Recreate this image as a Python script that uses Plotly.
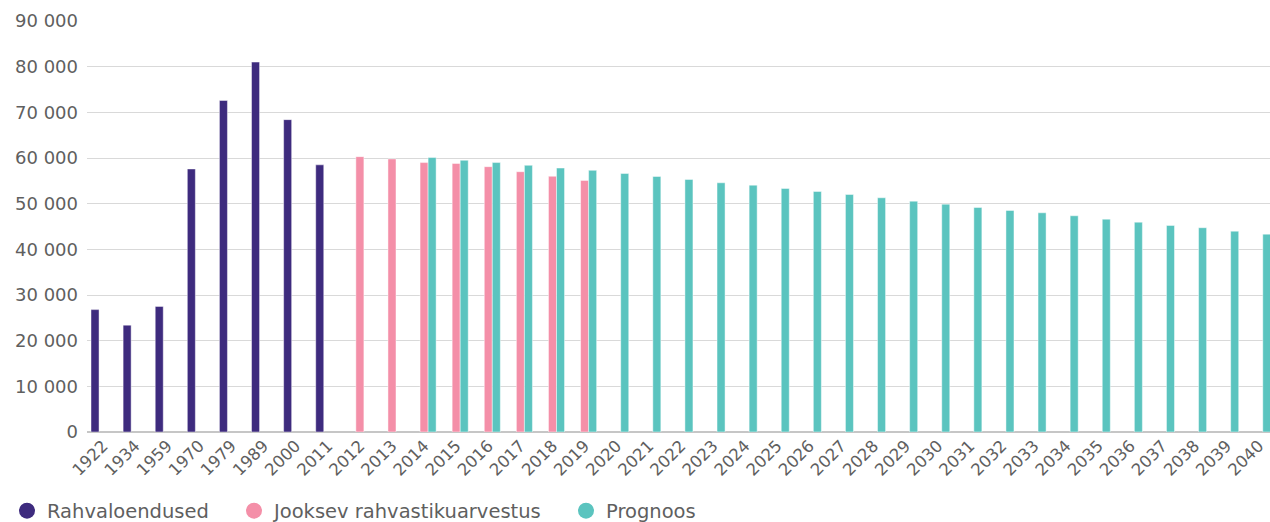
import plotly.graph_objects as go

categories = ["1922", "1934", "1959", "1970", "1979", "1989", "2000", "2011",
              "2012", "2013", "2014", "2015", "2016", "2017", "2018", "2019",
              "2020", "2021", "2022", "2023", "2024", "2025", "2026", "2027",
              "2028", "2029", "2030", "2031", "2032", "2033", "2034", "2035",
              "2036", "2037", "2038", "2039", "2040"]

rahvaloendused = [26800, 23400, 27500, 57600, 72600, 81000, 68400, 58500] + [None] * 29

jooksev = [None] * 8 + [60300, 59800, 59000, 58800, 58100, 57000, 56000, 55100] + [None] * 21

prognoos = [None] * 10 + [60100, 59500, 59000, 58400, 57800, 57300,
                          56600, 55950, 55300, 54570, 54050, 53330, 52670, 52010,
                          51290, 50550, 49890, 49170, 48510, 48000, 47350, 46610,
                          45950, 45230, 44730, 43980, 43330]

y_ticks = [0, 10000, 20000, 30000, 40000, 50000, 60000, 70000, 80000, 90000]
y_tick_labels = ["0", "10 000", "20 000", "30 000", "40 000", "50 000",
                 "60 000", "70 000", "80 000", "90 000"]

series = [
    ("Rahvaloendused", rahvaloendused, "#3e2b7e"),
    ("Jooksev rahvastikuarvestus", jooksev, "#f48fa8"),
    ("Prognoos", prognoos, "#5bc4bf"),
]

FONT = "DejaVu Sans"
TXT = "#5f5f5f"
W, H = 1270, 522

fig = go.Figure()
for name, vals, col in series:
    fig.add_trace(go.Bar(
        x=categories, y=vals, name=name, showlegend=False,
        marker=dict(color=col, line=dict(color="rgba(255,255,255,0.45)", width=1)),
        hoverinfo="x+y+name",
    ))

legend_ids = ["legend", "legend2", "legend3"]
legend_x = [7, 234, 566]
for (name, vals, col), lid in zip(series, legend_ids):
    fig.add_trace(go.Scatter(
        x=[None], y=[None], mode="markers", name=name, legend=lid,
        marker=dict(symbol="circle", size=19, color=col),
        showlegend=True, hoverinfo="skip",
    ))

legend_common = dict(
    orientation="h", xref="container", xanchor="left",
    yref="container", y=11 / H, yanchor="middle",
    font=dict(family=FONT, size=19.5, color=TXT),
    bgcolor="rgba(0,0,0,0)", borderwidth=0,
)

fig.update_layout(
    width=W, height=H,
    margin=dict(l=87, r=0, t=21, b=90, autoexpand=False),
    paper_bgcolor="white", plot_bgcolor="white",
    barmode="group", bargap=0.25, bargroupgap=0,
    font=dict(family=FONT, size=18, color=TXT),
    showlegend=True,
    legend=dict(x=legend_x[0] / W, **legend_common),
    legend2=dict(x=legend_x[1] / W, **legend_common),
    legend3=dict(x=legend_x[2] / W, **legend_common),
    xaxis=dict(
        type="category", range=[-0.5, 36.35], automargin=False,
        tickangle=-45, tickfont=dict(family=FONT, size=16.5, color=TXT),
        showgrid=False, showline=False, ticks="",
        fixedrange=True,
    ),
    yaxis=dict(
        range=[0, 90000], tickvals=y_ticks, ticktext=y_tick_labels,
        automargin=False,
        tickfont=dict(family=FONT, size=18, color=TXT),
        showgrid=True, gridcolor="#d9d9d9", gridwidth=1,
        zeroline=True, zerolinecolor="#c6c6c6", zerolinewidth=2,
        showline=False, ticks="", ticklabelstandoff=8,
        fixedrange=True,
    ),
)

page_fix = ("document.documentElement.style.margin='0';"
            "document.body.style.margin='0';"
            "document.documentElement.style.overflow='hidden';"
            "document.body.style.overflow='hidden';")

fig.write_html("out.html", post_script=page_fix,
               config={"displayModeBar": False})
